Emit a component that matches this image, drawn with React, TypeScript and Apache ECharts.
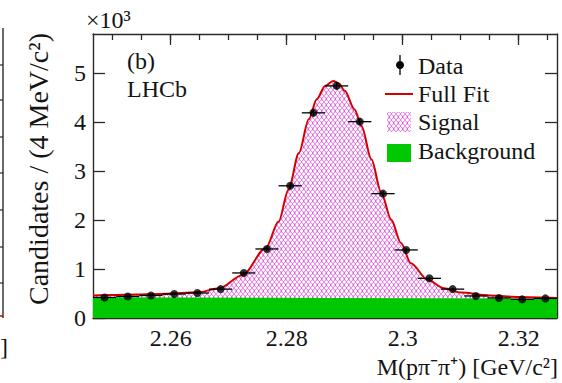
import React, { useEffect, useRef } from "react";
import * as echarts from "echarts";

// Invariant-mass histogram: 4 MeV bins, counts in units of 10^3
const binCenters = [
  2.2486, 2.2526, 2.2566, 2.2606, 2.2646, 2.2686, 2.2726, 2.2766, 2.2806, 2.2846,
  2.2886, 2.2926, 2.2966, 2.3006, 2.3046, 2.3086, 2.3126, 2.3166, 2.3206, 2.3246,
];
const counts = [
  0.42, 0.44, 0.46, 0.49, 0.51, 0.59, 0.92, 1.41, 2.7, 4.19,
  4.74, 4.01, 2.54, 1.39, 0.81, 0.59, 0.45, 0.41, 0.38, 0.4,
];
const countErrors = [
  0.02, 0.02, 0.02, 0.02, 0.02, 0.025, 0.03, 0.04, 0.05, 0.065,
  0.07, 0.065, 0.05, 0.04, 0.03, 0.025, 0.02, 0.02, 0.02, 0.02,
];
const binHalfWidth = 0.002;

// Full fit curve (signal + background)
const fitMass = [
  2.2466, 2.25, 2.254, 2.258, 2.262, 2.265, 2.2684, 2.2724, 2.2764, 2.2786,
  2.2803, 2.2821, 2.2838, 2.2852, 2.2866, 2.288, 2.289, 2.29, 2.2917, 2.2929,
  2.2946, 2.2963, 2.298, 2.2997, 2.3014, 2.3043, 2.3071, 2.31, 2.315, 2.32, 2.3266,
];
const fitValue = [
  0.46, 0.47, 0.48, 0.49, 0.51, 0.53, 0.61, 0.88, 1.43, 1.97,
  2.62, 3.37, 4.06, 4.47, 4.74, 4.84, 4.79, 4.64, 4.26, 3.92,
  3.24, 2.56, 2.01, 1.53, 1.12, 0.78, 0.61, 0.52, 0.46, 0.43, 0.41,
];

// Linear background component
const bkgMass = [2.2466, 2.3266];
const bkgValue = [0.425, 0.395];

// Axis ticks
const xMajorTicks = [2.26, 2.28, 2.3, 2.32];
const xMinorTicks = [
  2.25, 2.255, 2.26, 2.265, 2.27, 2.275, 2.28, 2.285, 2.29, 2.295,
  2.3, 2.305, 2.31, 2.315, 2.32, 2.325,
];
const yTicks = [0, 1, 2, 3, 4, 5];
const xMin = 2.2466;
const xMax = 2.3266;
const yMax = 5.8;

const FONT = "Liberation Serif, serif";
const INK = "#141414";
const AXIS = "#2a2a2a";
const RED = "#d40000";
const GREEN = "#00c800";

// Cross-hatched lens mesh used for the signal component
function makeHatch(): HTMLCanvasElement {
  const c = document.createElement("canvas");
  c.width = 9;
  c.height = 6;
  const ctx = c.getContext("2d")!;
  ctx.strokeStyle = "rgb(208,40,208)";
  ctx.lineWidth = 0.8;
  for (const sign of [1, -1]) {
    ctx.beginPath();
    for (let i = 0; i <= 36; i++) {
      const x = i / 4;
      const y = 3 + sign * 2.5 * Math.cos((2 * Math.PI * x) / 9);
      if (i === 0) ctx.moveTo(x, y);
      else ctx.lineTo(x, y);
    }
    ctx.stroke();
  }
  return c;
}

export default function App() {
  const ref = useRef<HTMLDivElement>(null);

  useEffect(() => {
    if (!ref.current) return;
    const chart = echarts.init(ref.current, undefined, { renderer: "svg" });
    const hatch = { image: makeHatch(), repeat: "repeat" } as any;

    const gridRect = { left: 93, top: 34, width: 464, height: 284, outerBoundsMode: "none" };
    const axisLine = { onZero: false, lineStyle: { color: AXIS, width: 1.4 } };
    const tickLine = { color: AXIS, width: 1.3 };
    const labelFont = { color: INK, fontFamily: FONT, fontSize: 24 };

    const points = binCenters.map((m, i) => [m, counts[i], countErrors[i]]);

    const option: any = {
      animation: false,
      backgroundColor: "#ffffff",
      textStyle: { fontFamily: FONT },
      grid: [{ ...gridRect }, { ...gridRect }],
      xAxis: [
        {
          gridIndex: 0, type: "value", position: "bottom", min: xMin, max: xMax,
          axisLine, axisTick: { inside: true, length: 6, customValues: xMinorTicks, lineStyle: tickLine },
          axisLabel: { show: false }, splitLine: { show: false },
        },
        {
          gridIndex: 0, type: "value", position: "top", min: xMin, max: xMax,
          axisLine, axisTick: { inside: true, length: 6, customValues: xMinorTicks, lineStyle: tickLine },
          axisLabel: { show: false }, splitLine: { show: false },
        },
        {
          gridIndex: 1, type: "value", position: "bottom", min: xMin, max: xMax,
          axisLine: { show: false, onZero: false },
          axisTick: { inside: true, length: 11, customValues: xMajorTicks, lineStyle: tickLine },
          axisLabel: {
            customValues: xMajorTicks, margin: 8, ...labelFont,
            formatter: (v: number) => String(Math.round(v * 100) / 100),
          },
          splitLine: { show: false },
        },
        {
          gridIndex: 1, type: "value", position: "top", min: xMin, max: xMax,
          axisLine: { show: false, onZero: false },
          axisTick: { inside: true, length: 11, customValues: xMajorTicks, lineStyle: tickLine },
          axisLabel: { show: false }, splitLine: { show: false },
        },
      ],
      yAxis: [
        {
          gridIndex: 0, type: "value", position: "left", min: 0, max: yMax,
          axisLine, axisTick: { inside: true, length: 12, customValues: yTicks, lineStyle: tickLine },
          axisLabel: { customValues: yTicks, margin: 7, ...labelFont },
          splitLine: { show: false },
        },
        {
          gridIndex: 0, type: "value", position: "right", min: 0, max: yMax,
          axisLine, axisTick: { inside: true, length: 12, customValues: yTicks, lineStyle: tickLine },
          axisLabel: { show: false }, splitLine: { show: false },
        },
        { gridIndex: 1, type: "value", min: 0, max: yMax, show: false },
      ],
      series: [
        {
          name: "Signal", type: "line", xAxisIndex: 0, yAxisIndex: 0,
          data: fitMass.map((m, i) => [m, fitValue[i]]),
          smooth: 0.3, smoothMonotone: "x", symbol: "none",
          lineStyle: { width: 0 }, areaStyle: { color: hatch, opacity: 1 }, z: 1,
        },
        {
          name: "Background", type: "line", xAxisIndex: 0, yAxisIndex: 0,
          data: bkgMass.map((m, i) => [m, bkgValue[i]]),
          symbol: "none", lineStyle: { width: 0 },
          areaStyle: { color: GREEN, opacity: 1 }, z: 2,
        },
        {
          name: "Full Fit", type: "line", xAxisIndex: 0, yAxisIndex: 0,
          data: fitMass.map((m, i) => [m, fitValue[i]]),
          smooth: 0.3, smoothMonotone: "x", symbol: "none",
          lineStyle: { color: RED, width: 2 }, z: 3,
        },
        {
          name: "Errors", type: "custom", xAxisIndex: 0, yAxisIndex: 0,
          data: points, z: 4,
          renderItem: (_p: any, api: any) => {
            const m = api.value(0);
            const v = api.value(1);
            const e = api.value(2);
            const a = api.coord([m - binHalfWidth, v]);
            const b = api.coord([m + binHalfWidth, v]);
            const c = api.coord([m, v - e]);
            const d = api.coord([m, v + e]);
            const style = { stroke: "#000", lineWidth: 1.3 };
            return {
              type: "group",
              children: [
                { type: "line", shape: { x1: a[0], y1: a[1], x2: b[0], y2: b[1] }, style },
                { type: "line", shape: { x1: c[0], y1: c[1], x2: d[0], y2: d[1] }, style },
              ],
            };
          },
        },
        {
          name: "Data", type: "scatter", xAxisIndex: 0, yAxisIndex: 0,
          data: points.map((p) => [p[0], p[1]]),
          symbol: "circle", symbolSize: 8, itemStyle: { color: "#000" }, z: 5,
        },
      ],
      graphic: [
        // neighbouring panel edge
        { type: "line", shape: { x1: 3, y1: 28, x2: 3, y2: 318 }, style: { stroke: AXIS, lineWidth: 1.4 } },
        ...[65, 100, 137, 173, 210, 247, 283].map((y) => ({
          type: "line", shape: { x1: 0, y1: y, x2: 3, y2: y }, style: { stroke: AXIS, lineWidth: 1.2 },
        })),
        { type: "line", shape: { x1: 0, y1: 316, x2: 3, y2: 316 }, style: { stroke: RED, lineWidth: 1.5 } },
        { type: "text", x: 0, y: 347, style: { text: "]", font: `24px ${FONT}`, fill: INK, verticalAlign: "middle" } },

        // axis titles
        {
          type: "text", x: 38, y: 169, rotation: Math.PI / 2,
          style: { text: "Candidates / (4 MeV/c²)", font: `28px ${FONT}`, fill: INK, align: "center", verticalAlign: "middle" },
        },
        {
          type: "text", x: 558, y: 367,
          style: { text: "M(pπ⁻π⁺) [GeV/c²]", font: `24px ${FONT}`, fill: INK, align: "right", verticalAlign: "middle" },
        },
        {
          type: "text", x: 86, y: 20,
          style: { text: "×10³", font: `24px ${FONT}`, fill: INK, verticalAlign: "middle" },
        },
        { type: "text", x: 127, y: 61, style: { text: "(b)", font: `24px ${FONT}`, fill: INK, verticalAlign: "middle" } },
        { type: "text", x: 127, y: 89, style: { text: "LHCb", font: `24px ${FONT}`, fill: INK, verticalAlign: "middle" } },

        // legend
        { type: "line", shape: { x1: 400, y1: 55, x2: 400, y2: 75 }, style: { stroke: "#000", lineWidth: 1.3 } },
        { type: "circle", shape: { cx: 400, cy: 65, r: 4 }, style: { fill: "#000" } },
        { type: "text", x: 418, y: 66, style: { text: "Data", font: `24px ${FONT}`, fill: INK, verticalAlign: "middle" } },
        { type: "line", shape: { x1: 385, y1: 94, x2: 413, y2: 94 }, style: { stroke: RED, lineWidth: 2 } },
        { type: "text", x: 418, y: 94, style: { text: "Full Fit", font: `24px ${FONT}`, fill: INK, verticalAlign: "middle" } },
        { type: "rect", shape: { x: 387, y: 112, width: 24, height: 20 }, style: { fill: hatch } },
        { type: "text", x: 418, y: 122, style: { text: "Signal", font: `24px ${FONT}`, fill: INK, verticalAlign: "middle" } },
        { type: "rect", shape: { x: 387, y: 144, width: 24, height: 18 }, style: { fill: GREEN } },
        { type: "text", x: 418, y: 151, style: { text: "Background", font: `24px ${FONT}`, fill: INK, verticalAlign: "middle" } },
      ],
    };

    chart.setOption(option);
    return () => chart.dispose();
  }, []);

  return (
    <div
      ref={ref}
      style={{ position: "fixed", left: 0, top: 0, width: 562, height: 383, background: "#fff" }}
    />
  );
}
